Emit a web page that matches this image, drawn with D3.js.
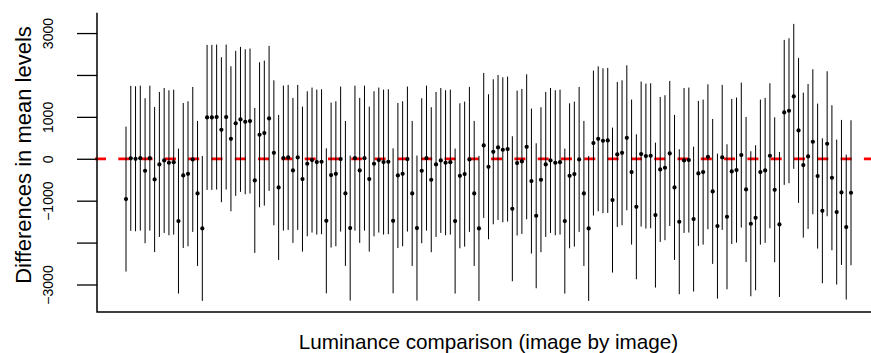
<!DOCTYPE html>
<html>
<head>
<meta charset="utf-8">
<script src="https://cdn.jsdelivr.net/npm/d3@7"></script>
<style>
  body { margin: 0; background: #fff; }
  text { font-family: "Liberation Sans", Arial, Helvetica, sans-serif; fill: #000; }
</style>
</head>
<body>
<script>
/*------------------------------------------------------------------
Data: pairwise differences in mean luminance (153 comparisons of
18 images), each with the same confidence half-width.
------------------------------------------------------------------*/
var diffs = [
  -962, 10, 0, 15, -286, 15, -493, -135, -40, -95, -80, -1487, -398, -358, -15, -827, -1662,
  987, 987, 995, 693, 995, 477, 845, 940, 883, 900, -516, 573, 613, 964, 143, -683,
  17, 33, -277, 33, -485, -119, -31, -79, -71, -1480, -389, -358, -7, -827, -1654,
  15, -277, 15, -485, -119, -31, -79, -71, -1480, -398, -358, -7, -827, -1654,
  -286, 15, -500, -135, -40, -95, -80, -1487, -406, -366, -15, -827, -1662,
  318, -191, 167, 270, 215, 231, -1193, -103, -63, 286, -532, -1360,
  -500, -135, -40, -95, -80, -1487, -406, -366, -15, -827, -1662,
  375, 477, 430, 438, -986, 104, 143, 501, -318, -1146,
  112, 64, 72, -1344, -254, -214, 128, -683, -1503,
  -40, -31, -1439, -350, -318, 48, -779, -1607,
  33, -1384, -302, -270, 88, -732, -1551,
  -1408, -318, -277, 72, -740, -1567,
  1107, 1146, 1489, 677, -151,
  56, 406, -413, -1241,
  358, -453, -1272,
  -803, -1630,
  -811
];
var halfWidth = 1730;
var yTicks = [-3000, -2000, -1000, 0, 1000, 2000, 3000];
var yTickLabels = ["\u22123000", "", "\u22121000", "0", "1000", "", "3000"];

var width = 871,
    height = 353,
    margin = {top: 12.8, right: -9, bottom: 41, left: 97};

var data = diffs.map(function(d, i) {
  return {i: i + 1, diff: d, lwr: d - halfWidth, upr: d + halfWidth};
});

/*------------------------------------------------------------------
Scales, padded by 4% on each side like R's default axes
------------------------------------------------------------------*/
var n = data.length;
var x = d3.scaleLinear()
    .domain([1 - 0.04 * (n - 1), n + 0.04 * (n - 1)])
    .range([margin.left, width - margin.right]);

var lo = d3.min(data, function(d) { return d.lwr; }),
    hi = d3.max(data, function(d) { return d.upr; }),
    pad = 0.04 * (hi - lo);
var y = d3.scaleLinear()
    .domain([lo - pad, hi + pad])
    .range([height - margin.bottom, margin.top]);

var svg = d3.select("body").append("svg")
    .attr("width", width)
    .attr("height", height);

/*------------------------------------------------------------------
Reference line at zero
------------------------------------------------------------------*/
svg.append("line")
    .attr("x1", margin.left - 2)
    .attr("x2", width)
    .attr("y1", y(0))
    .attr("y2", y(0))
    .attr("stroke", "#ff0000")
    .attr("stroke-width", 2.7)
    .attr("stroke-dasharray", "11,12.3");

/*------------------------------------------------------------------
Error bars and points
------------------------------------------------------------------*/
svg.append("g").selectAll("line")
    .data(data)
  .enter().append("line")
    .attr("x1", function(d) { return x(d.i); })
    .attr("x2", function(d) { return x(d.i); })
    .attr("y1", function(d) { return y(d.lwr); })
    .attr("y2", function(d) { return y(d.upr); })
    .attr("stroke", "#000")
    .attr("stroke-width", 1);

svg.append("g").selectAll("circle")
    .data(data)
  .enter().append("circle")
    .attr("cx", function(d) { return x(d.i); })
    .attr("cy", function(d) { return y(d.diff); })
    .attr("r", 2.1)
    .attr("fill", "#000");

/*------------------------------------------------------------------
Axes: L-shaped frame, y ticks only
------------------------------------------------------------------*/
var yAxis = d3.axisLeft(y)
    .tickValues(yTicks)
    .tickSize(20)
    .tickFormat(function(d, i) { return yTickLabels[i]; });

var gy = svg.append("g")
    .attr("transform", "translate(" + margin.left + ",0)")
    .call(yAxis);
gy.select(".domain").remove();
gy.selectAll(".tick line").attr("stroke-width", 1.3);
gy.selectAll(".tick text")
    .attr("x", null).attr("dy", null)
    .attr("transform", "translate(-44,0) rotate(-90)")
    .attr("text-anchor", "middle")
    .style("font-size", "14px")
    .style("font-family", "'Liberation Sans', Arial, sans-serif");

svg.append("path")
    .attr("d", "M" + margin.left + "," + y.range()[1] + "V" + y.range()[0] + "H" + width)
    .attr("fill", "none")
    .attr("stroke", "#000")
    .attr("stroke-width", 1.5);

svg.append("text")
    .attr("transform", "translate(31," + 155 + ") rotate(-90)")
    .attr("text-anchor", "middle")
    .style("font-size", "22px")
    .text("Differences in mean levels");

svg.append("text")
    .attr("x", (margin.left + width - margin.right) / 2)
    .attr("y", 349)
    .attr("text-anchor", "middle")
    .style("font-size", "20.7px")
    .text("Luminance comparison (image by image)");
</script>
</body>
</html>
